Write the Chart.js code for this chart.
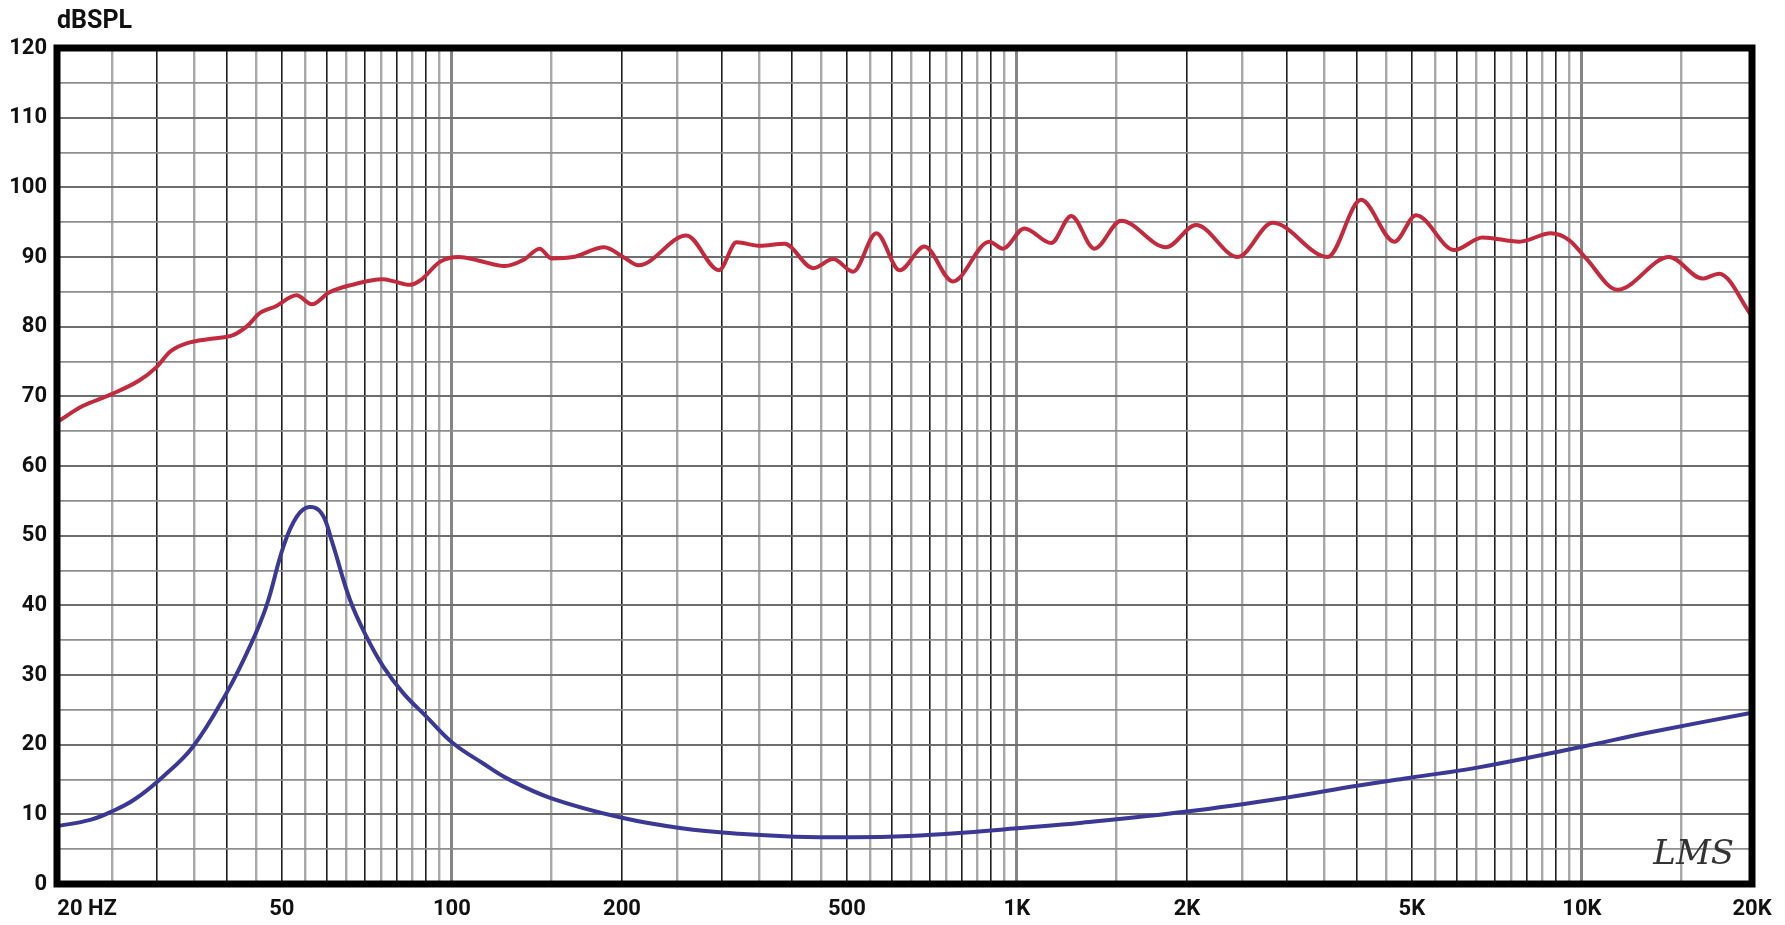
<!DOCTYPE html>
<html>
<head>
<meta charset="utf-8">
<script src="https://cdn.jsdelivr.net/npm/chart.js@4.4.1/dist/chart.umd.min.js"></script>
<style>
  html, body { margin: 0; padding: 0; background: #fff; }
  #wrap { width: 1785px; height: 925px; }
</style>
</head>
<body>
<div id="wrap"><canvas id="fr"></canvas></div>
<script>
// SPL response (red)
const splFreq = [20, 22.2, 24.8, 28, 30, 31.7, 33.9, 37.8, 41, 43.3, 45.8, 48.7, 53.1, 56.5, 60.6, 66.5,
  75.4, 79, 84.1, 88.1, 95.2, 102.9, 111.3, 124, 134, 143, 150, 164, 186, 201, 214, 260, 297, 319, 351,
  388, 436, 473, 513, 564, 620, 686, 770, 894, 944, 1031, 1150, 1248, 1371, 1529, 1836, 2075, 2459,
  2836, 3548, 4064, 4656, 5087, 5945, 6670, 7747, 8812, 9500, 10170, 11560, 14270, 16340, 17490, 20000];
const splDb = [66.3, 68.6, 70.2, 72.3, 74.2, 76.4, 77.6, 78.3, 78.8, 80.0, 82.0, 82.9, 84.5, 83.2, 84.9, 86.0,
  86.8, 86.5, 86.0, 86.7, 89.3, 90.0, 89.5, 88.7, 89.6, 91.2, 89.8, 90.0, 91.4, 90.0, 88.8, 93.1, 88.1, 92.1, 91.6,
  91.9, 88.4, 89.7, 87.9, 93.4, 88.1, 91.5, 86.5, 92.2, 91.2, 94.1, 92.0, 95.9, 91.2, 95.2, 91.4, 94.6, 90.0,
  94.9, 90.0, 98.2, 92.2, 96.0, 91.0, 92.8, 92.2, 93.4, 92.4, 89.8, 85.3, 90.0, 86.9, 87.6, 81.5];

// impedance (blue)
const impFreq = [20, 22.9, 25, 27.5, 30.8, 34.8, 39.9, 43.9, 47, 50.3, 53.1, 55.9, 58.8, 61.2, 66, 70.6, 75.6, 82,
  90.2, 100.5, 113.6, 124.9, 150, 200, 255, 322, 405, 511, 645, 813, 1000, 1304, 2000, 3000, 4000, 5000,
  6530, 10000, 13070, 20000];
const impVal = [8.3, 9.2, 10.4, 12.2, 15.4, 19.7, 27.4, 34.1, 40.0, 48.4, 52.7, 54.1, 53.2, 49.4, 40.8, 35.5, 31.2, 27.4,
  24.0, 20.2, 17.3, 15.2, 12.3, 9.5, 8.0, 7.2, 6.8, 6.7, 6.9, 7.4, 8.0, 8.8, 10.4, 12.4, 14.1, 15.3,
  16.7, 19.7, 21.7, 24.6];

const freqLabels = { 20: '20 HZ', 50: '50', 100: '100', 200: '200', 500: '500', 1000: '1K',
  2000: '2K', 5000: '5K', 10000: '10K', 20000: '20K' };

// grid frequencies: every half step inside each decade
const gridFreqs = [20];
for (let m = 2.5; m <= 10; m += 0.5) gridFreqs.push(m * 10);
[100, 1000].forEach(d => {
  for (let m = 1.5; m <= 10; m += 0.5) gridFreqs.push(Math.round(m * d));
});
gridFreqs.push(15000, 20000);

function lineKind(v) {
  const m = v / Math.pow(10, Math.floor(Math.log10(v) + 1e-9));
  const r = Math.round(m * 10);
  if (r === 10) return 'decade';
  return r % 10 === 0 ? 'dark' : 'light';
}

const tickFont = { family: 'Roboto, "DejaVu Sans", sans-serif', size: 22, weight: 'bold' };

const framePlugin = {
  id: 'frame',
  afterDatasetsDraw(chart) {
    const { ctx, chartArea: a } = chart;
    ctx.save();
    ctx.strokeStyle = '#000';
    ctx.lineWidth = 7;
    ctx.strokeRect(a.left, a.top, a.right - a.left, a.bottom - a.top);

    ctx.fillStyle = '#111';
    ctx.font = 'bold 25px Roboto, "DejaVu Sans", sans-serif';
    ctx.textAlign = 'left';
    ctx.textBaseline = 'alphabetic';
    ctx.fillText('dBSPL', a.left, a.top - 20);

    ctx.fillStyle = '#333';
    ctx.font = 'italic 34px "DejaVu Serif", serif';
    ctx.textAlign = 'right';
    ctx.fillText('LMS', a.right - 18, a.bottom - 20);
    ctx.restore();
  }
};

new Chart(document.getElementById('fr'), {
  type: 'scatter',
  data: {
    datasets: [
      {
        data: splFreq.map((f, i) => ({ x: f, y: splDb[i] })),
        borderColor: '#c32a3d',
        borderWidth: 4,
        showLine: true,
        pointRadius: 0,
        cubicInterpolationMode: 'monotone'
      },
      {
        data: impFreq.map((f, i) => ({ x: f, y: impVal[i] })),
        borderColor: '#3b3896',
        borderWidth: 4,
        showLine: true,
        pointRadius: 0,
        tension: 0.4
      }
    ]
  },
  options: {
    responsive: true,
    maintainAspectRatio: false,
    animation: false,
    layout: { padding: { top: 48, right: 33, left: 0, bottom: 0 } },
    plugins: { legend: { display: false }, tooltip: { enabled: false } },
    scales: {
      x: {
        type: 'logarithmic',
        min: 20,
        max: 20000,
        afterBuildTicks: ax => { ax.ticks = gridFreqs.map(v => ({ value: v })); },
        afterFit: s => { s.height = 41; s.paddingLeft = 0; s.paddingRight = 0; },
        border: { display: false },
        grid: {
          drawTicks: false,
          color: c => {
            const k = lineKind(c.tick.value);
            return k === 'dark' ? '#1e1e1e' : k === 'decade' ? '#858585' : '#a8a8a8';
          },
          lineWidth: c => {
            const k = lineKind(c.tick.value);
            return k === 'dark' ? 1.6 : k === 'decade' ? 3 : 2.4;
          }
        },
        ticks: {
          autoSkip: false,
          maxRotation: 0,
          minRotation: 0,
          padding: 12,
          color: '#111',
          font: tickFont,
          callback: v => {
            const l = freqLabels[v];
            if (!l) return '';
            return v === 20 ? ' '.repeat(11) + l : l;
          }
        }
      },
      y: {
        min: 0,
        max: 120,
        afterFit: s => { s.width = 57; },
        border: { display: false },
        grid: {
          drawTicks: false,
          color: c => (c.tick.value % 10 === 0 ? '#6e6e6e' : '#8e8e8e'),
          lineWidth: c => (c.tick.value % 10 === 0 ? 2 : 1.8)
        },
        ticks: {
          stepSize: 5,
          padding: 10,
          color: '#111',
          font: tickFont,
          callback: v => (v % 10 === 0 ? v : '')
        }
      }
    }
  },
  plugins: [framePlugin]
});
</script>
</body>
</html>
